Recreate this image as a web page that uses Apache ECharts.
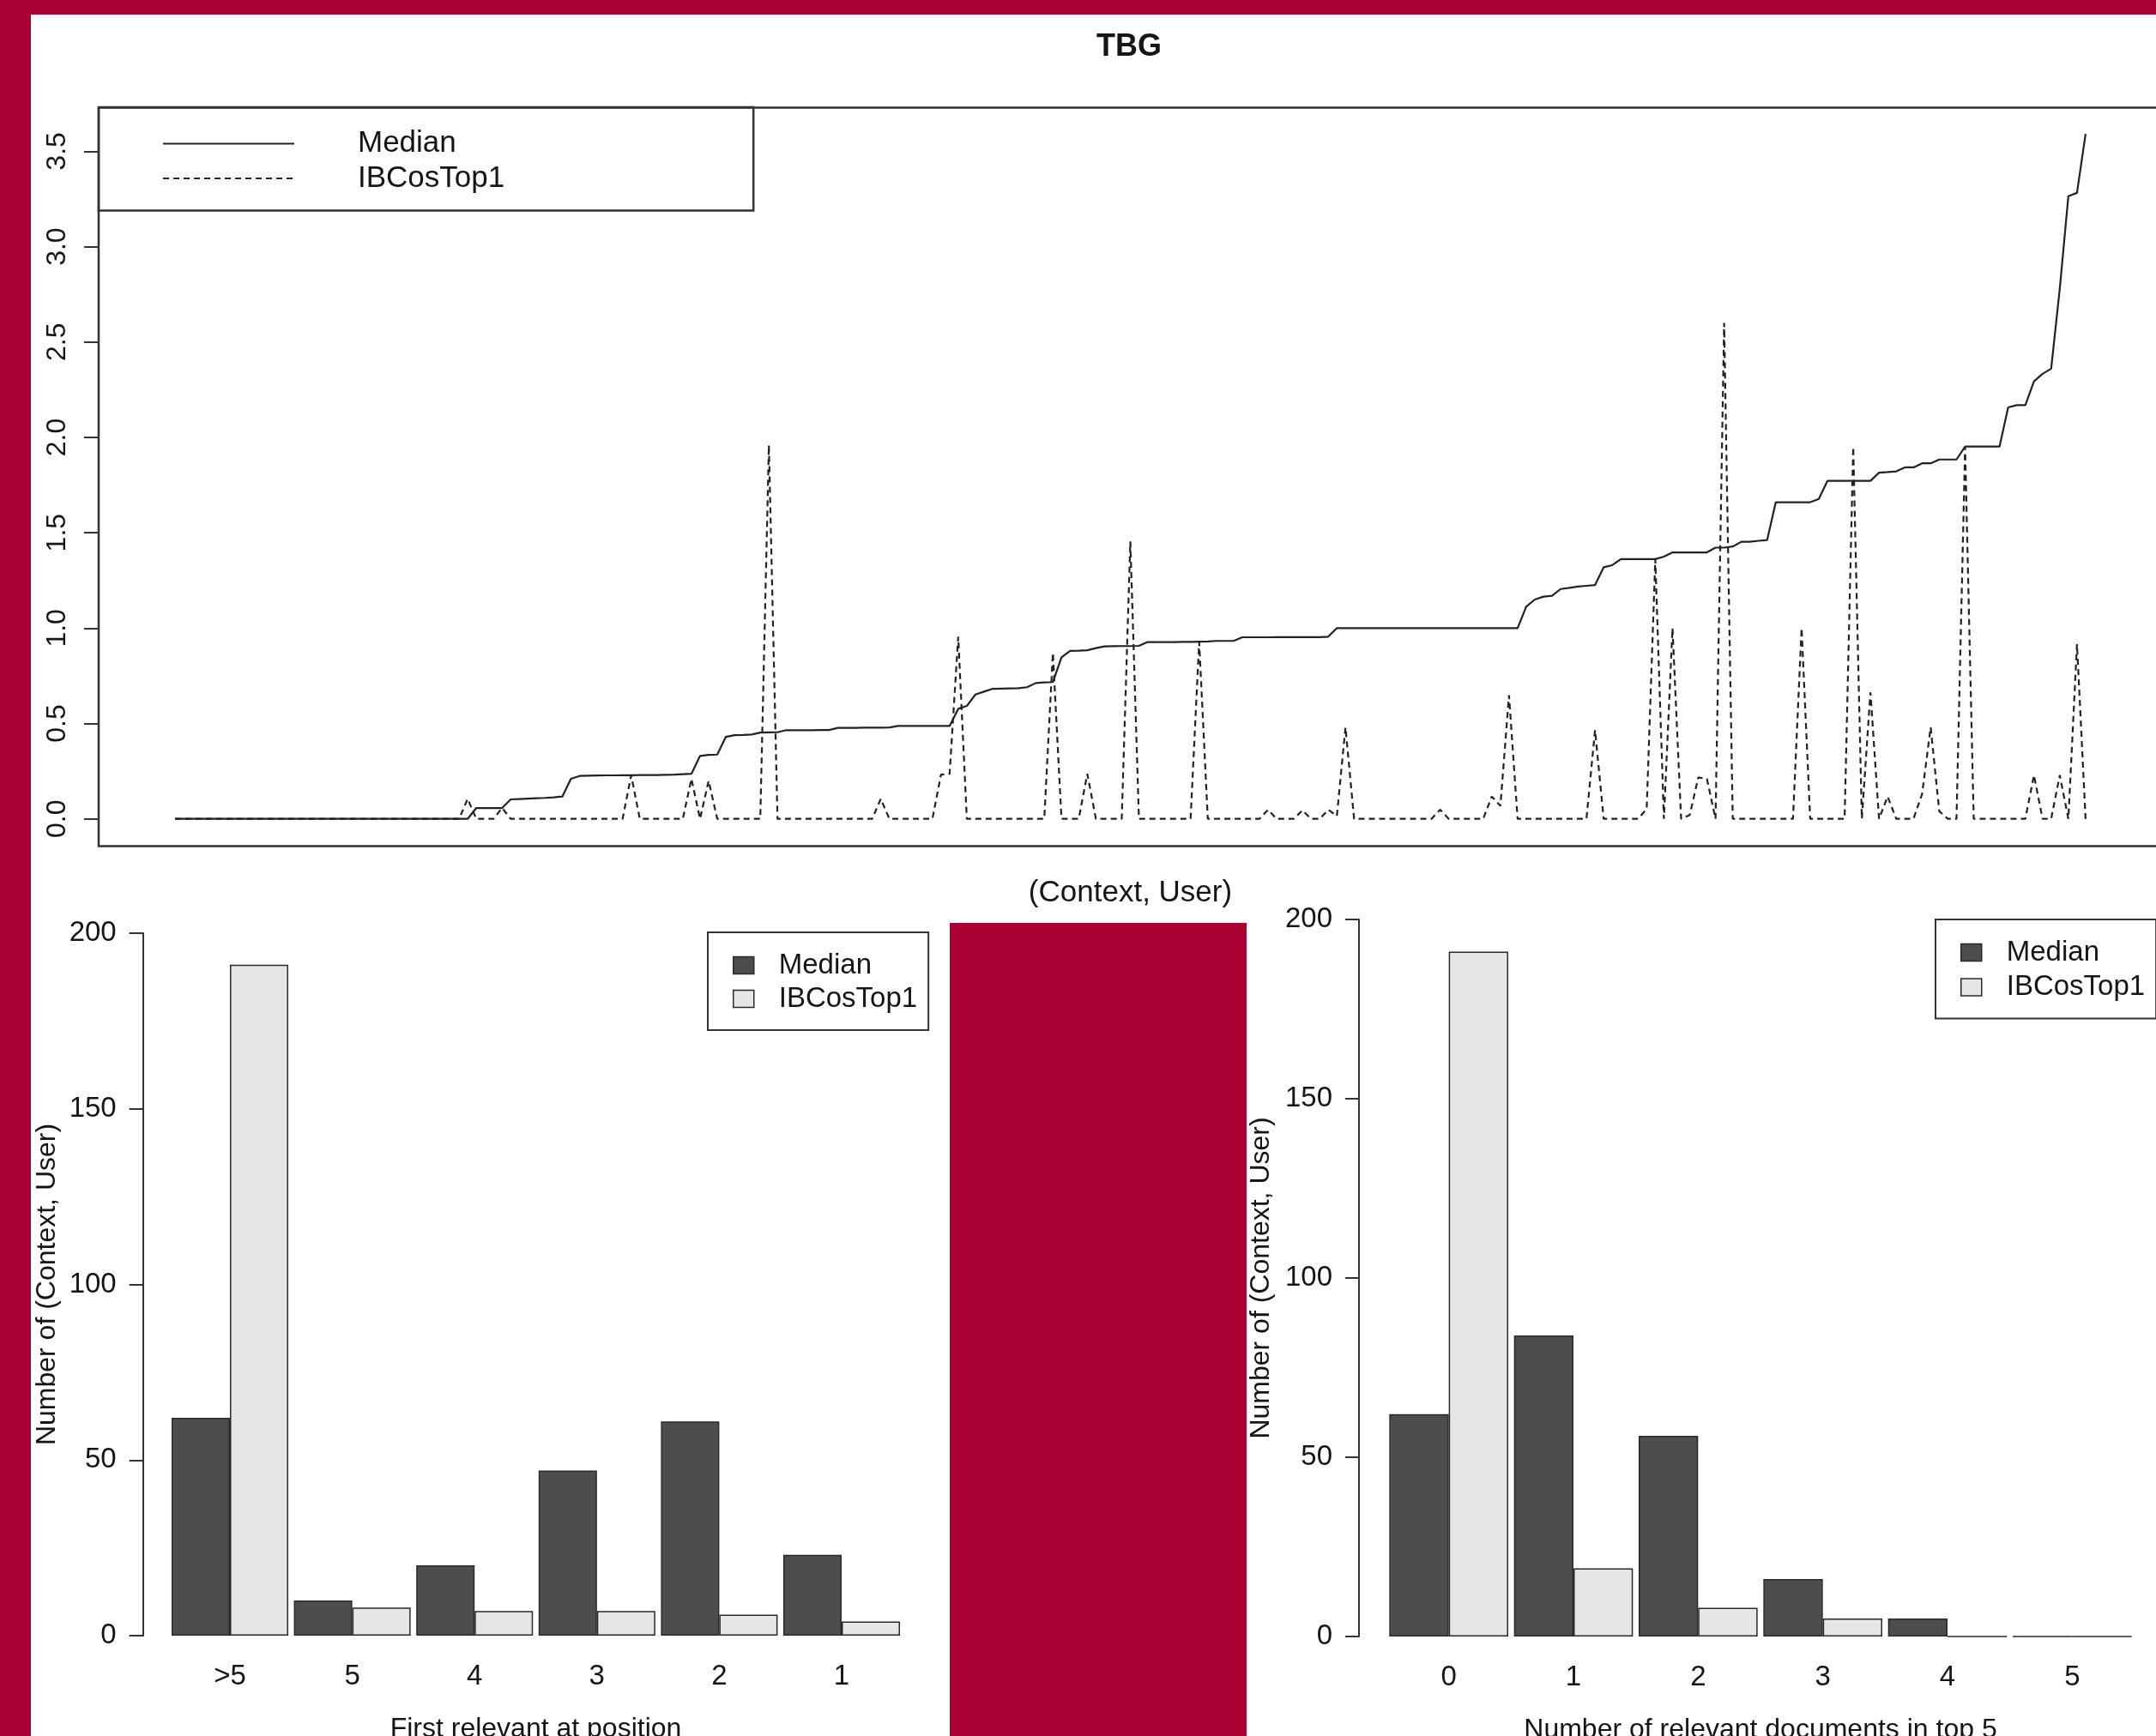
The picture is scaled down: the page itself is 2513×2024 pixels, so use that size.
<!DOCTYPE html>
<html>
<head>
<meta charset="utf-8">
<title>TBG</title>
<script src="https://cdn.jsdelivr.net/npm/echarts@6/dist/echarts.min.js"></script>
<style>
  html, body { margin: 0; padding: 0; background: #fff; }
  #chart { width: 2513px; height: 2024px; }
</style>
</head>
<body>
<div id="chart"></div>
<script>
// top panel: one value per (Context, User) pair, sorted by Median
const medianLine = [
  0, 0, 0, 0, 0, 0, 0, 0, 0, 0,
  0, 0, 0, 0, 0, 0, 0, 0, 0, 0,
  0, 0, 0, 0, 0, 0, 0, 0, 0, 0,
  0, 0, 0, 0, 0, 0.057, 0.057, 0.057, 0.057, 0.102,
  0.104, 0.106, 0.108, 0.110, 0.113, 0.117, 0.210, 0.225, 0.226, 0.227,
  0.228, 0.228, 0.229, 0.229, 0.230, 0.230, 0.230, 0.231, 0.232, 0.234,
  0.236, 0.330, 0.335, 0.337, 0.430, 0.439, 0.440, 0.442, 0.452, 0.453,
  0.454, 0.465, 0.465, 0.465, 0.465, 0.466, 0.466, 0.477, 0.477, 0.477,
  0.478, 0.478, 0.478, 0.479, 0.487, 0.487, 0.487, 0.487, 0.487, 0.487,
  0.487, 0.577, 0.592, 0.652, 0.667, 0.682, 0.683, 0.684, 0.685, 0.690,
  0.712, 0.715, 0.717, 0.847, 0.881, 0.882, 0.884, 0.895, 0.904, 0.905,
  0.906, 0.906, 0.907, 0.927, 0.927, 0.927, 0.927, 0.928, 0.928, 0.929,
  0.930, 0.933, 0.933, 0.933, 0.952, 0.952, 0.952, 0.952, 0.953, 0.953,
  0.953, 0.953, 0.953, 0.953, 0.955, 1, 1, 1, 1, 1,
  1, 1, 1, 1, 1, 1, 1, 1, 1, 1,
  1, 1, 1, 1, 1, 1, 1, 1.112, 1.150, 1.165,
  1.170, 1.205, 1.211, 1.218, 1.222, 1.226, 1.319, 1.330, 1.362, 1.362,
  1.362, 1.362, 1.362, 1.375, 1.397, 1.397, 1.397, 1.397, 1.397, 1.422,
  1.422, 1.428, 1.453, 1.453, 1.458, 1.462, 1.660, 1.660, 1.660, 1.660,
  1.660, 1.677, 1.772, 1.772, 1.772, 1.772, 1.772, 1.772, 1.815, 1.818,
  1.822, 1.843, 1.843, 1.864, 1.864, 1.884, 1.884, 1.884, 1.952, 1.952,
  1.952, 1.952, 1.952, 2.157, 2.169, 2.169, 2.294, 2.333, 2.360, 2.780,
  3.265, 3.282, 3.591
];
const ibcosLine = [
  0, 0, 0, 0, 0, 0, 0, 0, 0, 0,
  0, 0, 0, 0, 0, 0, 0, 0, 0, 0,
  0, 0, 0, 0, 0, 0, 0, 0, 0, 0,
  0, 0, 0, 0, 0.105, 0, 0, 0, 0.057, 0,
  0, 0, 0, 0, 0, 0, 0, 0, 0, 0,
  0, 0, 0, 0.229, 0, 0, 0, 0, 0, 0,
  0.21, 0, 0.20, 0, 0, 0, 0, 0, 0, 1.96,
  0, 0, 0, 0, 0, 0, 0, 0, 0, 0,
  0, 0, 0.105, 0, 0, 0, 0, 0, 0, 0.232,
  0.236, 0.955, 0, 0, 0, 0, 0, 0, 0, 0,
  0, 0, 0.87, 0, 0, 0, 0.236, 0, 0, 0,
  0, 1.454, 0, 0, 0, 0, 0, 0, 0, 0.927,
  0, 0, 0, 0, 0, 0, 0, 0.048, 0, 0,
  0, 0.045, 0, 0, 0.048, 0.015, 0.48, 0, 0, 0,
  0, 0, 0, 0, 0, 0, 0, 0.048, 0, 0,
  0, 0, 0, 0.117, 0.068, 0.648, 0, 0, 0, 0,
  0, 0, 0, 0, 0, 0.465, 0, 0, 0, 0,
  0, 0.052, 1.362, 0, 1.0, 0, 0.02, 0.217, 0.21, 0,
  2.6, 0, 0, 0, 0, 0, 0, 0, 0, 1.0,
  0, 0, 0, 0, 0, 1.95, 0, 0.663, 0, 0.117,
  0, 0, 0, 0.13, 0.48, 0.04, 0, 0, 1.95, 0,
  0, 0, 0, 0, 0, 0, 0.229, 0, 0, 0.229,
  0, 0.916, 0
];
const topTicks = [0, 0.5, 1, 1.5, 2, 2.5, 3, 3.5];

// bottom left: first relevant at position
const posCats = ['>5', '5', '4', '3', '2', '1'];
const posMedian = [62, 10, 20, 47, 61, 23];
const posIBCos = [191, 8, 7, 7, 6, 4];

// bottom right: number of relevant documents in top 5
const relCats = ['0', '1', '2', '3', '4', '5'];
const relMedian = [62, 84, 56, 16, 5, 0];
const relIBCos = [191, 19, 8, 5, 0, 0];

const FONT = 'Liberation Sans, Arial, sans-serif';
const INK = '#151515';
const RED = '#AA0033';
const DARK = '#4d4d4d';
const LIGHT = '#e6e6e6';
const EDGE = '#2a2a2a';

const n = medianLine.length;
const pad = (n - 1) * 0.04; // R style 4% axis padding
const medianPts = medianLine.map((v, i) => [i + 1, v]);
const ibcosPts = ibcosLine.map((v, i) => [i + 1, v]);

const chart = echarts.init(document.getElementById('chart'), null, { renderer: 'canvas' });

function barYAxis(gridIndex, offset, gap) {
  return {
    type: 'value', gridIndex: gridIndex, min: 0, max: 200, interval: 50, offset: offset,
    name: 'Number of (Context, User)', nameLocation: 'middle', nameGap: gap,
    nameTextStyle: { fontFamily: FONT, fontSize: 32, color: INK },
    axisLine: { show: true, onZero: false, lineStyle: { color: '#333', width: 2 } },
    axisTick: { show: true, length: 16, lineStyle: { color: '#333', width: 2 } },
    axisLabel: { fontFamily: FONT, fontSize: 33, color: INK, margin: 31 },
    splitLine: { show: false }
  };
}

function barXAxis(gridIndex, cats, title) {
  return {
    type: 'category', gridIndex: gridIndex, data: cats,
    name: title, nameLocation: 'middle', nameGap: 93,
    nameTextStyle: { fontFamily: FONT, fontSize: 32, color: INK },
    axisLine: { show: false, onZero: false }, axisTick: { show: false },
    axisLabel: { fontFamily: FONT, fontSize: 33, color: INK, margin: 31 }
  };
}

function barLegend(left, top, gap) {
  return {
    orient: 'vertical', left: left, top: top,
    padding: [22, 13, 20, 29], itemGap: gap,
    itemWidth: 24, itemHeight: 20,
    borderColor: '#333', borderWidth: 2, borderRadius: 0,
    selectedMode: false,
    textStyle: { fontFamily: FONT, fontSize: 33, color: INK, padding: [0, 0, 0, 24] },
    data: [
      { name: 'Median', icon: 'rect', itemStyle: { color: DARK, borderColor: EDGE, borderWidth: 1.5 } },
      { name: 'IBCosTop1', icon: 'rect', itemStyle: { color: LIGHT, borderColor: EDGE, borderWidth: 1.5 } }
    ]
  };
}

function bars(name, x, y, data, color) {
  return {
    name: name, type: 'bar', xAxisIndex: x, yAxisIndex: y, data: data,
    barGap: '0%', barCategoryGap: '4.6%',
    itemStyle: { color: color, borderColor: EDGE, borderWidth: 1.5 },
    emphasis: { disabled: true }
  };
}

const option = {
  animation: false,
  backgroundColor: '#fff',
  textStyle: { fontFamily: FONT },
  title: {
    text: 'TBG', left: 1316, top: 37, padding: 0, textAlign: 'center',
    textStyle: { fontFamily: FONT, fontSize: 36, fontWeight: 'bold', color: INK }
  },
  graphic: [
    { type: 'rect', silent: true, z: 100, shape: { x: 0, y: 0, width: 2513, height: 17 }, style: { fill: RED } },
    { type: 'rect', silent: true, z: 100, shape: { x: 0, y: 0, width: 36, height: 2024 }, style: { fill: RED } },
    { type: 'rect', silent: true, z: 100, shape: { x: 1107, y: 1076, width: 346, height: 948 }, style: { fill: RED } }
  ],
  legend: [
    {
      orient: 'vertical', left: 115, top: 125,
      padding: [25, 290, 20, 74], itemGap: 5.5,
      itemWidth: 153, itemHeight: 30,
      borderColor: '#333', borderWidth: 2.5, borderRadius: 0,
      selectedMode: false,
      itemStyle: { color: 'rgba(0,0,0,0)', borderColor: 'rgba(0,0,0,0)', borderWidth: 0 },
      textStyle: { fontFamily: FONT, fontSize: 35, color: INK, padding: [0, 0, 0, 69] },
      data: ['Median', 'IBCosTop1']
    },
    barLegend(825, 1087, 6),
    barLegend(2256, 1072, 7.5)
  ],
  grid: [
    { left: 115, top: 125.5, width: 2405, height: 861, outerBoundsMode: 'none', containLabel: false,
      show: true, borderColor: '#333', borderWidth: 2.5, backgroundColor: 'transparent' },
    { left: 196.7, top: 1088, width: 855.6, height: 819, outerBoundsMode: 'none', containLabel: false },
    { left: 1616, top: 1072, width: 872, height: 836, outerBoundsMode: 'none', containLabel: false }
  ],
  xAxis: [
    {
      type: 'value', gridIndex: 0, min: 1 - pad, max: n + pad,
      name: '(Context, User)', nameLocation: 'middle', nameGap: 37,
      nameTextStyle: { fontFamily: FONT, fontSize: 35, color: INK },
      axisLine: { show: false, onZero: false }, axisTick: { show: false },
      axisLabel: { show: false }, splitLine: { show: false }
    },
    barXAxis(1, posCats, 'First relevant at position'),
    barXAxis(2, relCats, 'Number of relevant documents in top 5')
  ],
  yAxis: [
    {
      type: 'value', gridIndex: 0, min: -0.143, max: 3.729,
      axisLine: { show: false, onZero: false },
      axisTick: { show: true, length: 17, customValues: topTicks, lineStyle: { color: '#333', width: 2 } },
      axisLabel: {
        fontFamily: FONT, fontSize: 32, color: INK, rotate: 90, margin: 32,
        customValues: topTicks, formatter: v => Number(v).toFixed(1)
      },
      splitLine: { show: false }
    },
    barYAxis(1, 30, 96),
    barYAxis(2, 32, 98)
  ],
  series: [
    {
      name: 'Median', type: 'line', xAxisIndex: 0, yAxisIndex: 0, data: medianPts,
      symbol: 'none', lineStyle: { color: '#222', width: 2.2, type: 'solid' },
      itemStyle: { color: '#222' }, emphasis: { disabled: true }
    },
    {
      name: 'IBCosTop1', type: 'line', xAxisIndex: 0, yAxisIndex: 0, data: ibcosPts,
      symbol: 'none', lineStyle: { color: '#222', width: 2.2, type: [7, 5] },
      itemStyle: { color: '#222' }, emphasis: { disabled: true }
    },
    bars('Median', 1, 1, posMedian, DARK),
    bars('IBCosTop1', 1, 1, posIBCos, LIGHT),
    bars('Median', 2, 2, relMedian, DARK),
    bars('IBCosTop1', 2, 2, relIBCos, LIGHT)
  ]
};

chart.setOption(option);
</script>
</body>
</html>
